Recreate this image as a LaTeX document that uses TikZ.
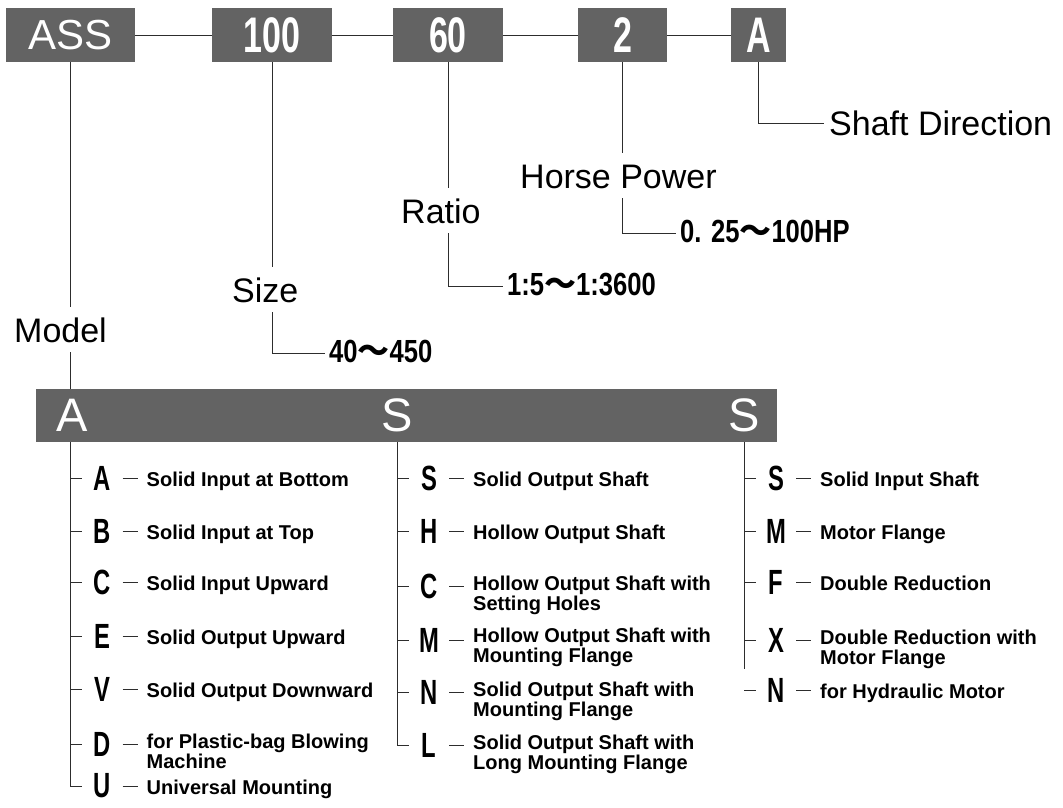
\documentclass[tikz,border=0pt]{standalone}
\usepackage{fontspec}
\setmainfont{Liberation Sans}
\newfontfamily\narrowfont[FakeStretch=0.68]{Liberation Sans}
\newfontfamily\rangefont[FakeStretch=0.8]{Liberation Sans}
\newfontfamily\wavefont{Noto Sans CJK JP}
\usepackage{tikz}
\definecolor{codegray}{RGB}{99,99,99}
\definecolor{linegray}{RGB}{45,45,45}
\newcommand{\wavedash}{{\wavefont\bfseries 〜}}

\begin{document}
\begin{tikzpicture}[
    x=1pt, y=-1pt,
    % Define styles
    codebox/.style = {rectangle, fill=codegray, text=white, minimum height=54pt, inner sep=0pt, font=\narrowfont\bfseries\fontsize{50}{50}\selectfont},
    codebar/.style = {rectangle, fill=codegray, minimum width=741pt, minimum height=53pt, inner sep=0pt},
    barchar/.style = {text=white, inner sep=0pt, font=\fontsize{47}{47}\selectfont},
    heading/.style = {anchor=base west, inner xsep=0pt, inner ysep=10pt, text height=24.5pt, text depth=0pt, font=\fontsize{34}{34}\selectfont},
    rangetext/.style = {anchor=west, inner xsep=4pt, inner ysep=0pt, text height=18pt, text depth=0pt, font=\rangefont\bfseries\fontsize{32}{32}\selectfont},
    optchar/.style = {minimum width=40pt, inner sep=0pt, font=\narrowfont\bfseries\fontsize{35}{35}\selectfont},
    optdesc/.style = {anchor=north west, inner xsep=9pt, inner ysep=0pt, align=left, font=\bfseries\fontsize{20}{20}\selectfont},
    conn/.style = {line width=1pt, draw=linegray}
]
\useasboundingbox (0,0) rectangle (1063,807);

% Code boxes
\node[codebox, minimum width=129pt, font=\fontsize{42}{42}\selectfont] (ass) at (70.5,35) {ASS};
\node[codebox, minimum width=120pt] (sz) at (272,35) {100};
\node[codebox, minimum width=110pt] (rt) at (448,35) {60};
\node[codebox, minimum width=89pt] (hp) at (622.5,35) {2};
\node[codebox, minimum width=55pt] (dir) at (758.5,35) {A};

% Headings and ranges
\node[heading] (model) at (14,342) {Model};
\node[heading] (size) at (232,302) {Size};
\node[heading] (ratio) at (401,223) {Ratio};
\node[heading] (power) at (520,188) {Horse Power};
\node[heading, anchor=west, inner xsep=5pt] (shaft) at (824,123) {Shaft Direction};
\node[rangetext] (sizeval) at (325,353) {40\wavedash450};
\node[rangetext] (ratioval) at (503,286) {1:5\wavedash1:3600};
\node[rangetext] (powerval) at (676,233) {0. 25\wavedash100HP};

% Bar
\node[codebar] (bar) at (406.5,415.5) {};
\node[barchar] (barA) at (72,415) {A};
\node[barchar] (barS) at (397,415) {S};
\node[barchar] (barSS) at (744,415) {S};

% Mounting options
\node[optchar] (inA) at (102.5,478) {A};
\node[optdesc] (inAd) at (137.5,471.5) {Solid Input at Bottom};
\node[optchar] (inB) at (102.5,531) {B};
\node[optdesc] (inBd) at (137.5,524.5) {Solid Input at Top};
\node[optchar] (inC) at (102.5,582) {C};
\node[optdesc] (inCd) at (137.5,575.5) {Solid Input Upward};
\node[optchar] (inE) at (102.5,636) {E};
\node[optdesc] (inEd) at (137.5,629.5) {Solid Output Upward};
\node[optchar] (inV) at (102.5,689) {V};
\node[optdesc] (inVd) at (137.5,682.5) {Solid Output Downward};
\node[optchar] (inD) at (102.5,744) {D};
\node[optdesc] (inDd) at (137.5,734) {for Plastic-bag Blowing\\Machine};
\node[optchar] (inU) at (102.5,786) {U};
\node[optdesc] (inUd) at (137.5,779.5) {Universal Mounting};

% Output shaft options
\node[optchar] (outS) at (429,478) {S};
\node[optdesc] (outSd) at (464,471.5) {Solid Output Shaft};
\node[optchar] (outH) at (429,531) {H};
\node[optdesc] (outHd) at (464,524.5) {Hollow Output Shaft};
\node[optchar] (outC) at (429,586) {C};
\node[optdesc] (outCd) at (464,576) {Hollow Output Shaft with\\Setting Holes};
\node[optchar] (outM) at (429,640) {M};
\node[optdesc] (outMd) at (464,628) {Hollow Output Shaft with\\Mounting Flange};
\node[optchar] (outN) at (429,692) {N};
\node[optdesc] (outNd) at (464,682) {Solid Output Shaft with\\Mounting Flange};
\node[optchar] (outL) at (429,745) {L};
\node[optdesc] (outLd) at (464,735) {Solid Output Shaft with\\Long Mounting Flange};

% Input shaft options
\node[optchar] (ipS) at (776,478) {S};
\node[optdesc] (ipSd) at (811,471.5) {Solid Input Shaft};
\node[optchar] (ipM) at (776,531) {M};
\node[optdesc] (ipMd) at (811,524.5) {Motor Flange};
\node[optchar] (ipF) at (776,582) {F};
\node[optdesc] (ipFd) at (811,575.5) {Double Reduction};
\node[optchar] (ipX) at (776,640) {X};
\node[optdesc] (ipXd) at (811,630) {Double Reduction with\\Motor Flange};
\node[optchar] (ipN) at (776,690) {N};
\node[optdesc] (ipNd) at (811,683.5) {for Hydraulic Motor};

% Connectors
\draw[conn] (ass) -- (sz);
\draw[conn] (sz) -- (rt);
\draw[conn] (rt) -- (hp);
\draw[conn] (hp) -- (dir);
\draw[conn] (ass.south) -- (ass.south |- model.north);
\draw[conn] (ass.south |- model.south) -- (ass.south |- bar.north);
\draw[conn] (sz.south) -- (sz.south |- size.north);
\draw[conn] (sz.south |- size.south) |- (sizeval.west);
\draw[conn] (rt.south) -- (rt.south |- ratio.north);
\draw[conn] (rt.south |- ratio.south) |- (ratioval.west);
\draw[conn] (hp.south) -- (hp.south |- power.north);
\draw[conn] (hp.south |- power.south) |- (powerval.west);
\draw[conn] (dir.south) |- (shaft.west);

% Trees
\draw[conn] (ass.south |- bar.south) |- (inU.west)
    (ass.south |- inA.west) -- (inA.west) (ass.south |- inB.west) -- (inB.west)
    (ass.south |- inC.west) -- (inC.west) (ass.south |- inE.west) -- (inE.west)
    (ass.south |- inV.west) -- (inV.west) (ass.south |- inD.west) -- (inD.west);
\draw[conn] (barS |- bar.south) |- (outL.west)
    (barS |- outS.west) -- (outS.west) (barS |- outH.west) -- (outH.west)
    (barS |- outC.west) -- (outC.west) (barS |- outM.west) -- (outM.west)
    (barS |- outN.west) -- (outN.west);
\draw[conn] (barSS |- bar.south) -- (barSS |- ipXd.south)
    (barSS |- ipS.west) -- (ipS.west) (barSS |- ipM.west) -- (ipM.west)
    (barSS |- ipF.west) -- (ipF.west) (barSS |- ipX.west) -- (ipX.west)
    (barSS |- ipN.west) -- (ipN.west);

% Dashes
\draw[conn] (inA) -- (inA -| inAd.west) (inB) -- (inB -| inBd.west)
    (inC) -- (inC -| inCd.west) (inE) -- (inE -| inEd.west)
    (inV) -- (inV -| inVd.west) (inD) -- (inD -| inDd.west)
    (inU) -- (inU -| inUd.west);
\draw[conn] (outS) -- (outS -| outSd.west) (outH) -- (outH -| outHd.west)
    (outC) -- (outC -| outCd.west) (outM) -- (outM -| outMd.west)
    (outN) -- (outN -| outNd.west) (outL) -- (outL -| outLd.west);
\draw[conn] (ipS) -- (ipS -| ipSd.west) (ipM) -- (ipM -| ipMd.west)
    (ipF) -- (ipF -| ipFd.west) (ipX) -- (ipX -| ipXd.west)
    (ipN) -- (ipN -| ipNd.west);

\end{tikzpicture}
\end{document}
